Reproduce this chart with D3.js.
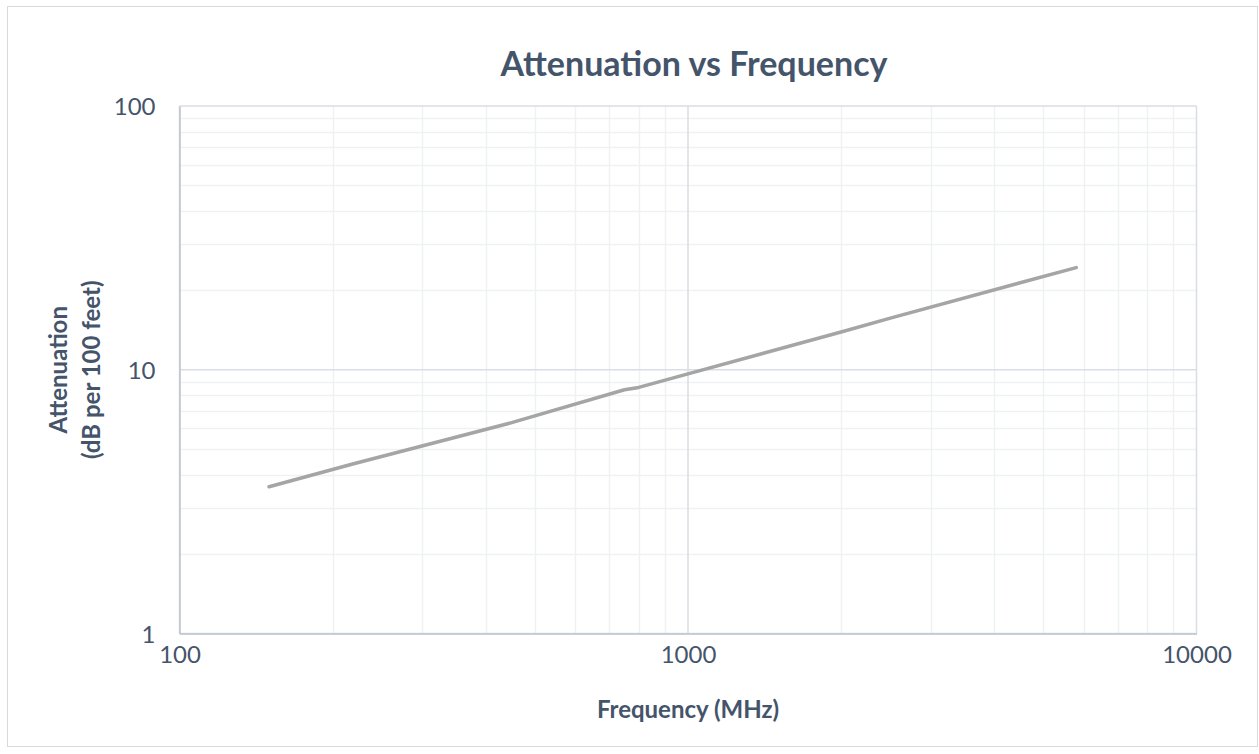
<!DOCTYPE html>
<html>
<head>
<meta charset="utf-8">
<script src="https://cdn.jsdelivr.net/npm/d3@7/dist/d3.min.js"></script>
<style>
  html, body { margin: 0; padding: 0; background: #ffffff; }
  svg { display: block; }
  text { font-family: Lato, "Open Sans", sans-serif; }
</style>
</head>
<body>
<svg id="chart" width="1259" height="754"></svg>
<script>
// ---- Data ----
const frequencies = [150, 220, 450, 750, 800, 1000, 2000, 2500, 5800];   // MHz
const attenuation = [3.6, 4.4, 6.3, 8.4, 8.57, 9.65, 13.9, 15.7, 24.4];  // dB per 100 ft
const xTickValues = [100, 1000, 10000];
const yTickValues = [1, 10, 100];
const chartTitle = "Attenuation vs Frequency";
const xTitle = "Frequency (MHz)";
const yTitleLines = ["Attenuation", "(dB per 100 feet)"];

// ---- Layout ----
const plot = { left: 179.5, top: 106, right: 1196.5, bottom: 633.5 };
const textColor = "#44546A";

const svg = d3.select("#chart");

// outer chart border
svg.append("rect")
  .attr("x", 7.5).attr("y", 6.5)
  .attr("width", 1250).attr("height", 740)
  .attr("fill", "#fff").attr("stroke", "#D9D9D9").attr("stroke-width", 1);

const x = d3.scaleLog().domain([100, 10000]).range([plot.left, plot.right]);
const y = d3.scaleLog().domain([1, 100]).range([plot.bottom, plot.top]);

// minor gridlines
const minorX = [];
const minorY = [];
[100, 1000].forEach(d => { for (let k = 2; k <= 9; k++) minorX.push(d * k); });
[1, 10].forEach(d => { for (let k = 2; k <= 9; k++) minorY.push(d * k); });

const grid = svg.append("g");
grid.selectAll(".mx").data(minorX).join("line")
  .attr("x1", d => Math.round(x(d)) + 0.5).attr("x2", d => Math.round(x(d)) + 0.5)
  .attr("y1", plot.top).attr("y2", plot.bottom)
  .attr("stroke", "#F0F1F4").attr("stroke-width", 1.5);
grid.selectAll(".my").data(minorY).join("line")
  .attr("y1", d => Math.round(y(d)) + 0.5).attr("y2", d => Math.round(y(d)) + 0.5)
  .attr("x1", plot.left).attr("x2", plot.right)
  .attr("stroke", "#F0F1F4").attr("stroke-width", 1.5);

// major gridlines
grid.selectAll(".Mx").data(xTickValues).join("line")
  .attr("x1", d => x(d)).attr("x2", d => x(d))
  .attr("y1", plot.top).attr("y2", plot.bottom)
  .attr("stroke", "#DADDE3").attr("stroke-width", 1.5);
grid.selectAll(".My").data(yTickValues).join("line")
  .attr("y1", d => y(d)).attr("y2", d => y(d))
  .attr("x1", plot.left).attr("x2", plot.right)
  .attr("stroke", "#DADDE3").attr("stroke-width", 1.5);

// axes
const xAxis = d3.axisBottom(x).tickValues(xTickValues).tickFormat(d3.format("d")).tickSize(0).tickPadding(25);
const yAxis = d3.axisLeft(y).tickValues(yTickValues).tickFormat(d3.format("d")).tickSize(0).tickPadding(24);

const gx = svg.append("g").attr("transform", `translate(0,${plot.bottom})`).call(xAxis);
const gy = svg.append("g").attr("transform", `translate(${plot.left},0)`).call(yAxis);
[gx, gy].forEach(g => {
  g.select(".domain").attr("stroke", "#BCC3CF").attr("stroke-width", 1.5);
  g.selectAll("text").attr("fill", textColor).style("font-size", "24px").style("font-family", "Lato, sans-serif");
});
gx.selectAll("text").attr("dy", "0.2em");
gy.selectAll("text").attr("dy", "0.36em");

// data line
const line = d3.line()
  .x((d, i) => x(frequencies[i]))
  .y((d, i) => y(attenuation[i]));
svg.append("path")
  .datum(attenuation)
  .attr("d", line)
  .attr("fill", "none")
  .attr("stroke", "#A5A5A5")
  .attr("stroke-width", 3.5)
  .attr("stroke-linecap", "round")
  .attr("stroke-linejoin", "round");

// title
svg.append("text")
  .attr("x", 694).attr("y", 76)
  .attr("text-anchor", "middle")
  .attr("fill", textColor)
  .style("font-size", "34px").style("font-weight", "bold")
  .text(chartTitle);

// x axis title
svg.append("text")
  .attr("x", 688).attr("y", 718)
  .attr("text-anchor", "middle")
  .attr("fill", textColor)
  .style("font-size", "24px").style("font-weight", "bold")
  .text(xTitle);

// y axis title (two lines, rotated)
const yt = svg.append("text")
  .attr("transform", `translate(0,${(plot.top + plot.bottom) / 2}) rotate(-90)`)
  .attr("text-anchor", "middle")
  .attr("fill", textColor)
  .style("font-size", "24px").style("font-weight", "bold");
yTitleLines.forEach((t, i) => {
  yt.append("tspan").attr("x", 0).attr("y", 67 + i * 33).text(t);
});
</script>
</body>
</html>
